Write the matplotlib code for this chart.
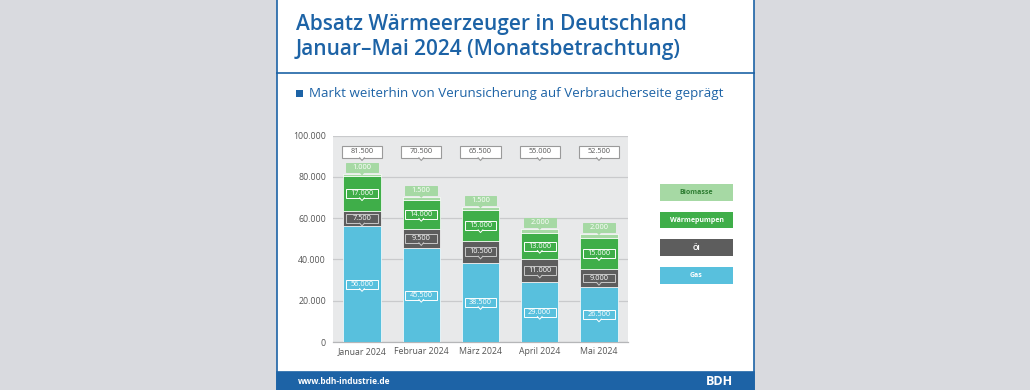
import matplotlib.pyplot as plt
from matplotlib.patches import Rectangle, Polygon

# Daten
monate = ['Januar 2024', 'Februar 2024', 'März 2024', 'April 2024', 'Mai 2024']
gas = [56000, 45500, 38500, 29000, 26500]
oel = [7500, 9500, 10500, 11000, 9000]
waermepumpen = [17000, 14000, 15000, 13000, 15000]
biomasse = [1000, 1500, 1500, 2000, 2000]
y_ticks = [0, 20000, 40000, 60000, 80000, 100000]

titel = 'Absatz Wärmeerzeuger in Deutschland\nJanuar–Mai 2024 (Monatsbetrachtung)'
untertitel = 'Markt weiterhin von Verunsicherung auf Verbraucherseite geprägt'

# Farben
BLAU = '#1d63a6'
C_GAS = '#58c0dd'
C_OEL = '#5d5d5d'
C_WP = '#3fae49'
C_BIO = '#a6d9a4'

plt.rcParams['font.family'] = ['Open Sans', 'DejaVu Sans']


def fmt(v):
    # deutsche Tausendertrennung
    return f'{v:,}'.replace(',', '.')


fig = plt.figure(figsize=(10.3, 3.9), dpi=100)
fig.patch.set_facecolor('#d9dadf')

# Hintergrund / Rahmen in Pixelkoordinaten
bg = fig.add_axes([0, 0, 1, 1])
bg.set_xlim(0, 1030)
bg.set_ylim(390, 0)
bg.axis('off')
bg.add_patch(Rectangle((277, -2), 477, 394, facecolor='white', edgecolor=BLAU, lw=1.2))
bg.add_patch(Rectangle((277, 372), 477, 18, facecolor=BLAU, edgecolor=BLAU, lw=1.2))
bg.plot([277, 754], [72.5, 72.5], color=BLAU, lw=1.2)

zeilen = titel.split('\n')
bg.text(296, 30, zeilen[0], color=BLAU, fontsize=15, fontweight='semibold', va='baseline')
bg.text(296, 55, zeilen[1], color=BLAU, fontsize=15, fontweight='semibold', va='baseline')
bg.add_patch(Rectangle((296, 90), 7, 7, facecolor=BLAU, edgecolor='none'))
bg.text(309, 97, untertitel, color=BLAU, fontsize=9.6, fontweight='medium', va='baseline')

bg.text(298, 381.5, 'www.bdh-industrie.de', color='white', fontsize=6, fontweight='bold', va='center')
bg.text(733, 381.5, 'BDH', color='white', fontsize=9, fontweight='bold', va='center', ha='right')

# Legende
leg_items = [('Biomasse', C_BIO, '#2e7d32'), ('Wärmepumpen', C_WP, 'white'),
             ('Öl', C_OEL, 'white'), ('Gas', C_GAS, 'white')]
for i, (name, fc, tc) in enumerate(leg_items):
    y0 = 184 + i * 27.7
    bg.add_patch(Rectangle((660, y0), 73, 16.7, facecolor=fc, edgecolor='none'))
    bg.text(696.5, y0 + 8.6, name, color=tc, fontsize=5, fontweight='bold', ha='center', va='center')

# Diagramm
ax = fig.add_axes([333 / 1030, 48 / 390, 295 / 1030, 206.3 / 390])
ax.set_facecolor('#e8e9ea')
x = list(range(len(monate)))
w = 0.63

bottom = [0] * len(x)
stapel = [(gas, C_GAS), (oel, C_OEL), (waermepumpen, C_WP), (biomasse, C_BIO)]
for werte, farbe in stapel:
    ax.bar(x, werte, w, bottom=bottom, color=farbe, edgecolor='white', lw=0.5, zorder=3)
    bottom = [b + v for b, v in zip(bottom, werte)]
summen = bottom


def label_box(xc, yc, text, bw, bh, fc, ec, tc, lw=0.7):
    x0, y0 = xc - bw / 2, yc - bh / 2
    ax.add_patch(Rectangle((x0, y0), bw, bh, facecolor=fc, edgecolor=ec, lw=lw, zorder=5))
    dx, dy = 0.04, 1300
    ax.add_patch(Polygon([(xc - dx, y0 + 150), (xc, y0 - dy), (xc + dx, y0 + 150)],
                         closed=True, facecolor=fc, edgecolor='none', zorder=5.5))
    ax.plot([xc - dx, xc, xc + dx], [y0, y0 - dy, y0], color=ec, lw=lw, zorder=6)
    ax.text(xc, yc, text, color=tc, fontsize=5.3, ha='center', va='center', zorder=7)


for i in x:
    # Segmentbeschriftungen
    unten = 0
    for werte, farbe, ec in [(gas, C_GAS, 'white'), (oel, C_OEL, '#c8c8c8'),
                             (waermepumpen, C_WP, 'white')]:
        label_box(i, unten + werte[i] / 2, fmt(werte[i]), 0.535, 4300, farbe, ec, 'white')
        unten += werte[i]
    # Biomasse oberhalb
    label_box(i, summen[i] + 3000, fmt(biomasse[i]), 0.535, 4100, C_BIO, C_BIO, 'white')
    # Summe
    label_box(i, 92200, fmt(summen[i]), 0.68, 5800, 'white', '#9a9a9a', '#555555', lw=0.8)

ax.set_xlim(-0.49, 4.49)
ax.set_ylim(0, 100000)
ax.set_yticks(y_ticks)
ax.set_yticklabels([fmt(v) for v in y_ticks])
ax.set_xticks(x)
ax.set_xticklabels(monate)
ax.tick_params(axis='both', length=0, labelsize=6.3, labelcolor='#555555')
ax.tick_params(axis='y', pad=5)
ax.tick_params(axis='x', pad=3.5)
ax.set_axisbelow(True)
ax.yaxis.grid(True, color='#c9cacc', lw=0.9, zorder=0)
for s in ['top', 'right', 'left']:
    ax.spines[s].set_visible(False)
ax.spines['bottom'].set_color('#b5b6b8')
ax.spines['bottom'].set_linewidth(0.9)

fig.savefig('out.png', dpi=100)
